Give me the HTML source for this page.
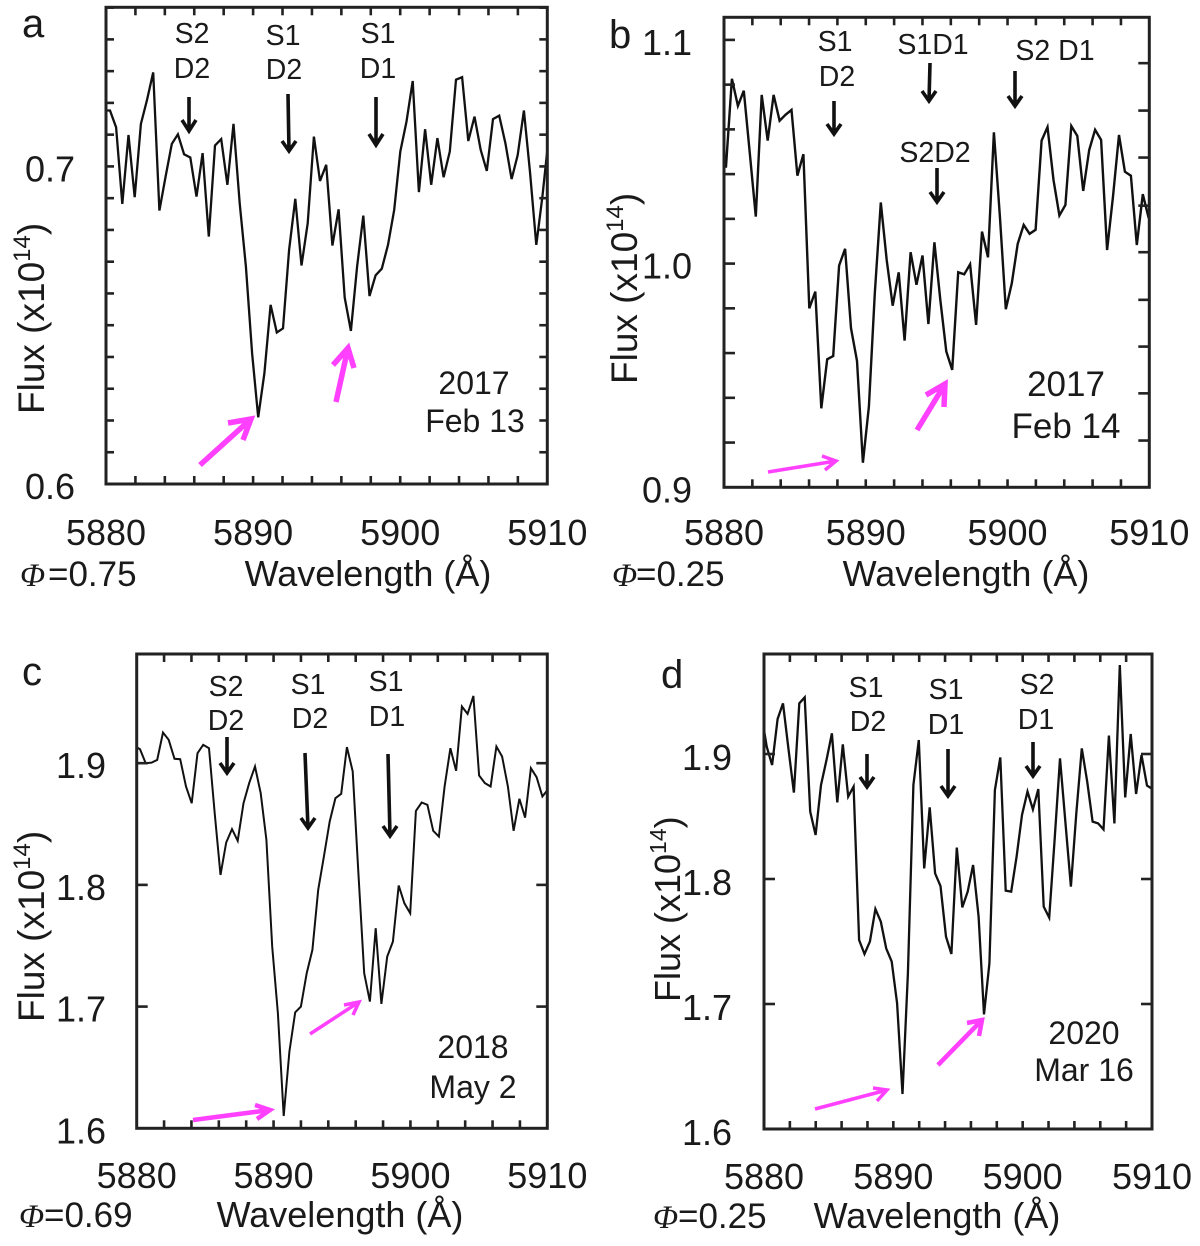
<!DOCTYPE html>
<html lang="en">
<head>
<meta charset="utf-8">
<title>Sodium D absorption spectra</title>
<style>
html,body{margin:0;padding:0;background:#fff;}
svg{display:block;}
text{font-family:"Liberation Sans",sans-serif;fill:#1a1a1a;}
.ann{font-size:28.5px;text-anchor:middle;}
.date{font-size:32px;text-anchor:middle;}
.tick-label{font-size:36px;}
.phase{font-size:35px;}
.axis-title{font-size:36px;}
.y-title{font-size:37px;}
.panel-letter{font-size:40px;}
.phi{font-family:"Liberation Serif",serif;font-style:italic;font-size:33px;}
.blk{fill:none;stroke:#111;stroke-width:3.6;}
.mag{fill:none;stroke:#ff40ff;stroke-width:5.5;}
.mag-thin{fill:none;stroke:#ff40ff;stroke-width:3.5;}
</style>
</head>
<body>
<svg id="figure" xmlns="http://www.w3.org/2000/svg" width="1200" height="1246" viewBox="0 0 1200 1246">
  <rect width="1200" height="1246" fill="#fff"/>
  <g id="charts"></g>

  <!-- panel a annotations -->
  <g>
    <text class="panel-letter" x="22" y="37">a</text>
    <text class="ann" x="192" y="43">S2</text>
    <text class="ann" x="192" y="78">D2</text>
    <text class="ann" x="283" y="45">S1</text>
    <text class="ann" x="284" y="79">D2</text>
    <text class="ann" x="378" y="43">S1</text>
    <text class="ann" x="378" y="78">D1</text>
    <path class="blk" d="M189 97V131M182 120L189 131L196 120"/>
    <path class="blk" d="M288 94L289 151M282 141L289 151L296 141"/>
    <path class="blk" d="M376 97V145M369 134L376 145L383 134"/>
    <path class="mag" d="M200 465L251 419M228 423L251 419L243 440"/>
    <path class="mag" d="M336 402L348 348M333 365L348 348L354 368"/>
    <text class="date" x="474" y="394">2017</text>
    <text class="date" x="475" y="432">Feb 13</text>
    <text class="phase" y="586"><tspan class="phi" x="20">Φ</tspan><tspan x="48">=0.75</tspan></text>
    <text class="axis-title" x="368" y="586" text-anchor="middle">Wavelength (Å)</text>
    <text class="y-title" transform="translate(44,414) rotate(-90)">Flux (x10<tspan font-size="24" dy="-14">14</tspan><tspan dy="14">)</tspan></text>
  </g>

  <!-- panel b annotations -->
  <g>
    <text class="panel-letter" x="609" y="48">b</text>
    <text class="ann" x="835" y="51">S1</text>
    <text class="ann" x="837" y="86">D2</text>
    <text class="ann" x="933" y="54">S1D1</text>
    <text class="ann" x="1055" y="60">S2 D1</text>
    <text class="ann" x="935" y="162">S2D2</text>
    <path class="blk" d="M834 101V134M827 124L834 134L841 124"/>
    <path class="blk" d="M930 63L929 101M922 91L929 101L936 91"/>
    <path class="blk" d="M1015 71V106M1008 96L1015 106L1022 96"/>
    <path class="blk" d="M937 168V202M930 192L937 202L944 192"/>
    <path class="mag-thin" d="M768 472L836 461M822 456L836 461L825 470"/>
    <path class="mag" d="M917 430L945 384M926 395L945 384L944 407"/>
    <text class="date" style="font-size:35px" x="1066" y="396">2017</text>
    <text class="date" style="font-size:35px" x="1066" y="438">Feb 14</text>
    <text class="phase" y="586"><tspan class="phi" x="612">Φ</tspan><tspan x="636">=0.25</tspan></text>
    <text class="axis-title" x="966" y="586" text-anchor="middle">Wavelength (Å)</text>
    <text class="y-title" transform="translate(637,384) rotate(-90)">Flux (x10<tspan font-size="24" dy="-14">14</tspan><tspan dy="14">)</tspan></text>
  </g>

  <!-- panel c annotations -->
  <g>
    <text class="panel-letter" x="22" y="685">c</text>
    <text class="ann" x="226" y="696">S2</text>
    <text class="ann" x="226" y="730">D2</text>
    <text class="ann" x="308" y="694">S1</text>
    <text class="ann" x="310" y="728">D2</text>
    <text class="ann" x="386" y="691">S1</text>
    <text class="ann" x="387" y="726">D1</text>
    <path class="blk" d="M227 737V773M220 763L227 773L234 763"/>
    <path class="blk" d="M305 753L308 828M301 818L308 828L315 818"/>
    <path class="blk" d="M388 754L390 836M383 826L390 836L397 826"/>
    <path class="mag" style="stroke-width:4.5" d="M193 1120L270 1110M255 1105L270 1110L257 1119"/>
    <path class="mag-thin" d="M310 1034L359 1002M344 1005L359 1002L353 1015"/>
    <text class="date" x="473" y="1058">2018</text>
    <text class="date" x="473" y="1098">May 2</text>
    <text class="phase" y="1227"><tspan class="phi" x="19">Φ</tspan><tspan x="44">=0.69</tspan></text>
    <text class="axis-title" x="340" y="1227" text-anchor="middle">Wavelength (Å)</text>
    <text class="y-title" transform="translate(44,1022) rotate(-90)">Flux (x10<tspan font-size="24" dy="-14">14</tspan><tspan dy="14">)</tspan></text>
  </g>

  <!-- panel d annotations -->
  <g>
    <text class="panel-letter" x="661" y="688">d</text>
    <text class="ann" x="866" y="697">S1</text>
    <text class="ann" x="868" y="731">D2</text>
    <text class="ann" x="946" y="699">S1</text>
    <text class="ann" x="946" y="734">D1</text>
    <text class="ann" x="1037" y="694">S2</text>
    <text class="ann" x="1036" y="729">D1</text>
    <path class="blk" d="M867 754V787M860 777L867 787L874 777"/>
    <path class="blk" d="M948 749V796M941 786L948 796L955 786"/>
    <path class="blk" d="M1033 742V776M1026 766L1033 776L1040 766"/>
    <path class="mag-thin" d="M815 1109L887 1090M873 1088L887 1090L877 1101"/>
    <path class="mag" style="stroke-width:4.5" d="M938 1065L982 1020M967 1023L982 1020L979 1036"/>
    <text class="date" x="1084" y="1044">2020</text>
    <text class="date" x="1084" y="1081">Mar 16</text>
    <text class="phase" y="1228"><tspan class="phi" x="653">Φ</tspan><tspan x="678">=0.25</tspan></text>
    <text class="axis-title" x="937" y="1228" text-anchor="middle">Wavelength (Å)</text>
    <text class="y-title" style="font-size:36px" transform="translate(680,1002) rotate(-90)">Flux (x10<tspan font-size="23" dy="-14">14</tspan><tspan dy="14">)</tspan></text>
  </g>
</svg>
<script>
const wavelengths = [5879.80,5880.22,5880.64,5881.06,5881.48,5881.90,5882.32,5882.74,5883.16,5883.58,5884.00,5884.42,5884.84,5885.26,5885.68,5886.10,5886.52,5886.94,5887.36,5887.78,5888.20,5888.62,5889.04,5889.46,5889.88,5890.30,5890.72,5891.14,5891.56,5891.98,5892.40,5892.82,5893.24,5893.66,5894.08,5894.50,5894.92,5895.34,5895.76,5896.18,5896.60,5897.02,5897.44,5897.86,5898.28,5898.70,5899.12,5899.54,5899.96,5900.38,5900.80,5901.22,5901.64,5902.06,5902.48,5902.90,5903.32,5903.74,5904.16,5904.58,5905.00,5905.42,5905.84,5906.26,5906.68,5907.10,5907.52,5907.94,5908.36,5908.78,5909.20,5909.62,5910.04];

const fluxA = [0.7176,0.7176,0.7123,0.6882,0.7099,0.6903,0.7134,0.7209,0.7296,0.6861,0.6968,0.7071,0.7101,0.7038,0.7028,0.6905,0.7042,0.6779,0.7066,0.7086,0.6942,0.7134,0.6884,0.6685,0.6412,0.6210,0.6349,0.6564,0.6477,0.6490,0.6737,0.6898,0.6688,0.6821,0.7094,0.6954,0.7005,0.6751,0.6865,0.6587,0.6482,0.6685,0.6845,0.6592,0.6657,0.6678,0.6753,0.6863,0.7047,0.7141,0.7269,0.6919,0.7117,0.6942,0.7089,0.6966,0.7047,0.7273,0.7281,0.7080,0.7157,0.7052,0.6986,0.7149,0.7160,0.7073,0.6960,0.7036,0.7176,0.6979,0.6753,0.6905,0.7089];

const fluxB = [1.0434,1.0434,1.0826,1.0705,1.0773,1.0493,1.0210,1.0754,1.0550,1.0754,1.0639,1.0665,1.0687,1.0393,1.0489,0.9800,0.9875,0.9353,0.9572,0.9587,0.9991,1.0066,0.9711,0.9565,0.9110,0.9361,0.9867,1.0273,1.0016,0.9812,0.9961,0.9656,1.0051,0.9905,1.0036,0.9730,1.0095,0.9838,0.9607,0.9525,0.9961,0.9952,0.9997,0.9726,1.0143,1.0028,1.0587,1.0210,0.9796,0.9912,1.0088,1.0173,1.0133,1.0151,1.0550,1.0610,1.0374,1.0215,1.0262,1.0615,1.0571,1.0325,1.0508,1.0598,1.0553,1.0061,1.0300,1.0575,1.0411,1.0393,1.0083,1.0310,1.0203];

const fluxC = [1.9143,1.9115,1.9000,1.9005,1.9027,1.9252,1.9192,1.9036,1.9033,1.8808,1.8671,1.9082,1.9151,1.9123,1.8589,1.8082,1.8348,1.8458,1.8362,1.8671,1.8836,1.8973,1.8753,1.8370,1.7493,1.6945,1.6101,1.6630,1.6953,1.7000,1.7274,1.7466,1.7959,1.8233,1.8521,1.8712,1.8748,1.9132,1.8932,1.8096,1.7274,1.7041,1.7644,1.7022,1.7411,1.7534,1.7995,1.7849,1.7767,1.8608,1.8677,1.8658,1.8444,1.8397,1.8808,1.9123,1.8937,1.9466,1.9405,1.9553,1.8899,1.8836,1.8808,1.9137,1.9055,1.8808,1.8444,1.8707,1.8553,1.8959,1.8885,1.8726,1.8786];

const fluxD = [1.9325,1.9059,1.8912,1.9280,1.9405,1.9045,1.8691,1.9405,1.9453,1.8539,1.8352,1.8752,1.8952,1.9165,1.8613,1.9077,1.8659,1.8739,1.7512,1.7400,1.7499,1.7760,1.7659,1.7445,1.7339,1.7005,1.6280,1.7245,1.8752,1.9112,1.8085,1.8573,1.8045,1.7944,1.7539,1.7400,1.8251,1.7773,1.7899,1.8112,1.7699,1.6917,1.7325,1.8712,1.8973,1.7907,1.7899,1.8179,1.8512,1.8699,1.8557,1.8720,1.7779,1.7691,1.8312,1.8965,1.8445,1.7939,1.8525,1.9045,1.8779,1.8459,1.8445,1.8397,1.9147,1.8445,1.9712,1.8653,1.9160,1.8680,1.8992,1.8747,1.8720];

const xTickLabels = ['5880','5890','5900','5910'];
const yTickLabelsA = ['0.6','0.7'];
const yTickLabelsB = ['0.9','1.0','1.1'];
const yTickLabelsC = ['1.6','1.7','1.8','1.9'];
const yTickLabelsD = ['1.6','1.7','1.8','1.9'];
const rightTicksB = [0.9209,0.9420,0.9629,0.9838,1.0051,1.0259,1.0474,1.0684,1.0896];

const panels = [
  {id:'a', flux:fluxA, yLabels:yTickLabelsA, left:106, right:547.3, top:7.3, bottom:484, yMin:0.6, yMax:0.7501, yStep:0.01, shift:0.05, lineW:2.3, yLen:8, labelRight:75, labelDy:15, xLabelY:545},
  {id:'b', flux:fluxB, yLabels:yTickLabelsB, left:724, right:1149.3, top:17.3, bottom:487.3, yMin:0.9, yMax:1.1101, yStep:0.02, shift:-0.08, lineW:2.4, yLen:11, rightTicks:rightTicksB, labelRight:692, labelDy:15, xLabelY:545},
  {id:'c', flux:fluxC, yLabels:yTickLabelsC, left:136.7, right:547.3, top:654, bottom:1128.3, yMin:1.6, yMax:1.9897, yStep:0.1, shift:0.02, lineW:2, yLen:11, labelRight:106, labelDy:15, xLabelY:1188},
  {id:'d', flux:fluxD, yLabels:yTickLabelsD, left:764, right:1152, top:654, bottom:1129, yMin:1.6, yMax:1.98, yStep:0.1, shift:-0.01, lineW:2.3, yLen:11, labelRight:732, labelDy:16, xLabelY:1189}
];

const SVG_NS = 'http://www.w3.org/2000/svg';
const xMin = 5880, xMax = 5910;

function xScale(p, w){ return p.left + (w - xMin) / (xMax - xMin) * (p.right - p.left); }
function yScale(p, f){ return p.bottom - (f - p.yMin) / (p.yMax - p.yMin) * (p.bottom - p.top); }

function tickLine(parent, x1, y1, x2, y2){
  const l = document.createElementNS(SVG_NS, 'line');
  l.setAttribute('x1', x1); l.setAttribute('y1', y1);
  l.setAttribute('x2', x2); l.setAttribute('y2', y2);
  l.setAttribute('stroke', '#222');
  l.setAttribute('stroke-width', '2.6');
  
  
  parent.appendChild(l);
}

function tickText(parent, str, x, y, anchor){
  const t = document.createElementNS(SVG_NS, 'text');
  t.setAttribute('class', 'tick-label');
  t.setAttribute('x', x); t.setAttribute('y', y);
  t.setAttribute('text-anchor', anchor);
  
  
  t.textContent = str;
  parent.appendChild(t);
}

function drawPanel(p){
  const root = document.getElementById('charts');
  const g = document.createElementNS(SVG_NS, 'g');
  
  
  root.appendChild(g);

  const clip = document.createElementNS(SVG_NS, 'clipPath');
  clip.setAttribute('id', 'clip-' + p.id);
  const cr = document.createElementNS(SVG_NS, 'rect');
  cr.setAttribute('x', p.left); cr.setAttribute('y', p.top);
  cr.setAttribute('width', p.right - p.left); cr.setAttribute('height', p.bottom - p.top);
  clip.appendChild(cr);
  g.appendChild(clip);

  // spectrum line
  const pts = wavelengths.map((w, i) => xScale(p, w + p.shift).toFixed(1) + ',' + yScale(p, p.flux[i]).toFixed(1)).join(' ');
  const line = document.createElementNS(SVG_NS, 'polyline');
  line.setAttribute('points', pts);
  line.setAttribute('fill', 'none');
  line.setAttribute('stroke', '#111');
  line.setAttribute('stroke-width', p.lineW);
  line.setAttribute('stroke-linejoin', 'miter');
  line.setAttribute('clip-path', 'url(#clip-' + p.id + ')');
  
  
  g.appendChild(line);

  // x ticks, top and bottom, every 2 angstrom
  for (let w = xMin + 2; w < xMax; w += 2){
    const x = xScale(p, w);
    tickLine(g, x, p.bottom, x, p.bottom - 8);
    tickLine(g, x, p.top, x, p.top + 8);
  }
  // left y ticks
  const nY = Math.floor((p.yMax - p.yMin) / p.yStep + 1e-6);
  for (let k = 1; k <= nY; k++){
    const y = yScale(p, p.yMin + k * p.yStep);
    tickLine(g, p.left, y, p.left + p.yLen, y);
    if (!p.rightTicks) tickLine(g, p.right, y, p.right - p.yLen, y);
  }
  // independently placed right ticks, if any
  if (p.rightTicks){
    p.rightTicks.forEach(v => {
      const y = yScale(p, v);
      tickLine(g, p.right, y, p.right - p.yLen, y);
    });
  }
  // frame
  const frame = document.createElementNS(SVG_NS, 'rect');
  frame.setAttribute('x', p.left); frame.setAttribute('y', p.top);
  frame.setAttribute('width', p.right - p.left); frame.setAttribute('height', p.bottom - p.top);
  frame.setAttribute('fill', 'none');
  frame.setAttribute('stroke', '#222');
  frame.setAttribute('stroke-width', '3');
  
  
  g.appendChild(frame);

  // labels
  xTickLabels.forEach(s => {
    tickText(g, s, xScale(p, parseFloat(s)), p.xLabelY, 'middle');
  });
  p.yLabels.forEach(s => {
    tickText(g, s, p.labelRight, yScale(p, parseFloat(s)) + p.labelDy, 'end');
  });
}

panels.forEach(drawPanel);
</script>
</body>
</html>
